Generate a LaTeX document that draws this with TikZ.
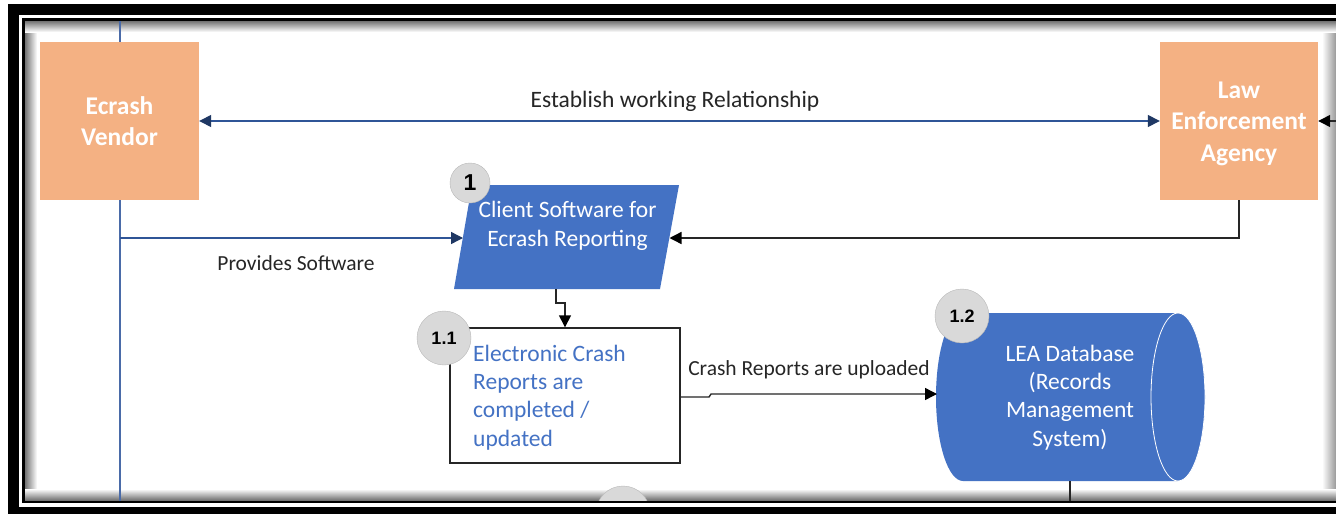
\documentclass[tikz,border=0pt]{standalone}
\usepackage{fontspec}
\setmainfont{Carlito}
\newfontfamily\badgefont{Liberation Sans}
\usetikzlibrary{arrows.meta}
\definecolor{peach}{HTML}{F4B183}
\definecolor{oblue}{HTML}{4472C4}
\definecolor{navy}{HTML}{2F5597}
\definecolor{navytip}{HTML}{1F3864}
\definecolor{life}{HTML}{4A6BA8}
\definecolor{badgegray}{HTML}{D9D9D9}
\definecolor{txt}{HTML}{262626}
\tikzset{
  NT/.tip={Triangle[length=12pt,width=12pt,color=navytip]},
  BT/.tip={Triangle[length=12pt,width=12pt,color=black]},
}
\begin{document}
\begin{tikzpicture}[x=1pt,y=-1pt,
  actor/.style={fill=peach, draw=none, minimum width=159pt, minimum height=158pt,
    text=white, font=\fontsize{25.5}{31.5}\selectfont\bfseries, align=center, inner sep=0pt},
  navyline/.style={draw=navy, line width=1.4pt},
  lifeline/.style={draw=life, line width=1.6pt},
  blk/.style={draw=black!85, line width=1.4pt},
  lbl/.style={text=txt, font=\fontsize{21.5}{26}\selectfont, inner sep=0pt},
  boxtext/.style={text=white, font=\fontsize{23.5}{28.4}\selectfont, align=center, inner sep=0pt},
  badge/.style={circle, fill=badgegray, draw=badgegray!85!black, line width=0.4pt, inner sep=0pt, text=black},
]
\useasboundingbox (0,0) rectangle (1336,514);
% frame
\fill[white] (0,0) rectangle (1336,514);
\fill[black] (8,4) rectangle (1340,520);
\fill[white] (19,15) rectangle (1340,507);
\fill[black] (22,18) rectangle (1340,503);
\fill[white] (25,21) rectangle (1340,500);
% inner shadows
\shade[left color=black!55, right color=white] (25,21) rectangle (37,500);
\shade[left color=white, right color=black!40] (1322,21) rectangle (1336,500);
\shade[top color=black!55, bottom color=white] (25,21) rectangle (1336,32);
\shade[top color=white, bottom color=black!55] (25,489) rectangle (1336,500);

\begin{scope}
\clip (25,21) rectangle (1336,500);
% coordinates
\coordinate (lltop) at (120,21);
\coordinate (llbot) at (120,505);
\coordinate (pw) at (120,238);
\coordinate (re) at (1340,121);
\coordinate (cs-w) at (463,238);
\coordinate (cs-e) at (669.5,238);
\coordinate (cs-s) at (556,289);
\coordinate (j1) at (565,303);
\coordinate (ecr-e) at (680,397);
\coordinate (j2) at (709,397);
\coordinate (j3) at (711,394);
\coordinate (db-w) at (937,394);
\coordinate (db-s) at (1070,481);
\coordinate (dbb) at (1070,505);

% lifeline
\draw[lifeline] (lltop) -- (llbot);

% actors
\node[actor] (ev) at (119.5,121) {Ecrash\\Vendor};
\node[actor, minimum width=158pt, text depth=0pt] (lea) at (1239,121) {};
\node[text=white, font=\fontsize{25.5}{31.5}\selectfont\bfseries, align=center, inner sep=0pt] (leat) at (1239,123.5) {Law\\Enforcement\\Agency};

% parallelogram
\fill[oblue] (472,185) -- (679,185) -- (660,289) -- (454,289) -- cycle;
\node[boxtext] (cs) at (567.5,226) {Client Software for\\Ecrash Reporting};

% process box
\node[draw=black!85, line width=1.4pt, fill=white, minimum height=135pt, minimum width=230pt] (ecr) at (565,395.5) {};
\node[inner sep=0pt, text width=184pt, align=flush left, text=oblue,
  font=\fontsize{23.5}{28.4}\selectfont, anchor=west] (ecrt) at (473,397.5)
  {Electronic Crash\\Reports are\\completed /\\updated};

% database cylinder
\fill[oblue] (963,313) -- (1178,313)
  arc[start angle=-90, end angle=90, x radius=27, y radius=84]
  -- (963,481)
  arc[start angle=90, end angle=270, x radius=27, y radius=84] -- cycle;
\draw[white, line width=0.8pt] (1178,397) ellipse[x radius=27, y radius=84];
\node[boxtext] (db) at (1070,397.5) {LEA Database\\(Records\\Management\\System)};

% connectors
\draw[navyline, NT-NT] (ev.east) -- (lea.west);
\draw[navyline, -NT] (pw) -- (cs-w);
\draw[blk, -BT] (lea.south) |- (cs-e);
\draw[blk, -BT] (re) -- (lea.east);
\draw[blk, -BT] (cs-s) |- (j1) -- (ecr.north);
\draw[blk, -BT] (ecr-e) -- (j2) -- (j3) -- (db-w);
\draw[blk] (db-s) -- (dbb);

% labels
\node[lbl, font=\fontsize{23.5}{28}\selectfont] (l1) at (675,101) {Establish working Relationship};
\node[lbl] (l2) at (296,263) {Provides Software};
\node[lbl] (l3) at (809,370) {Crash Reports are uploaded};

% badges
\node[badge, minimum size=40pt, font=\badgefont\bfseries\fontsize{23}{23}\selectfont] (b1) at (470,183) {1};
\node[badge, minimum size=54pt, font=\badgefont\bfseries\fontsize{18}{18}\selectfont] (b11) at (444,338) {1.1};
\node[badge, minimum size=54pt, font=\badgefont\bfseries\fontsize{18}{18}\selectfont] (b12) at (962,316) {1.2};
\node[badge, minimum size=54pt] (b2) at (623,513) {};
\draw[black, line width=3pt] (b2.center) ++(-6,-8) arc[start angle=180, end angle=360, x radius=6, y radius=-4];
\end{scope}
\end{tikzpicture}
\end{document}
